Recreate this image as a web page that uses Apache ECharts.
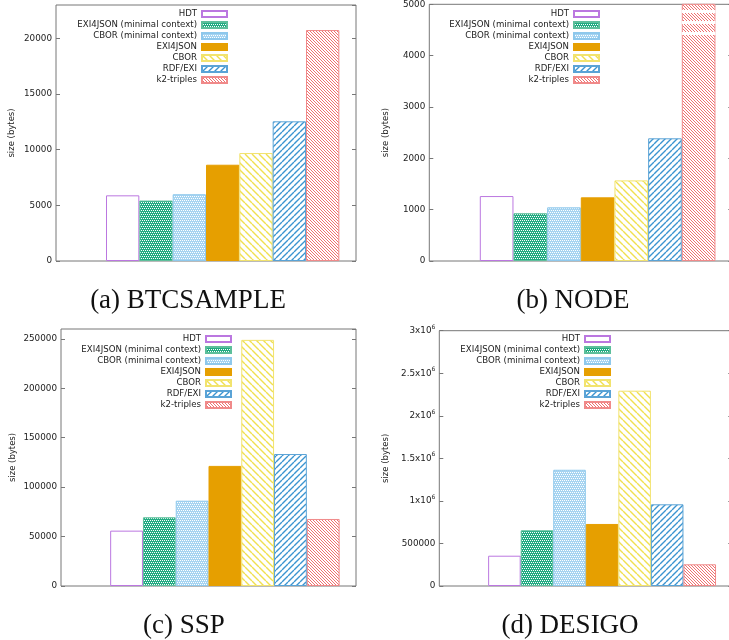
<!DOCTYPE html>
<html><head><meta charset="utf-8">
<script src="https://cdn.jsdelivr.net/npm/echarts@6/dist/echarts.min.js"></script>
<style>html,body{margin:0;padding:0;background:#fff}#c{width:729px;height:640px}</style>
</head><body><div id="c"></div><script>
// ---- data ----
const seriesNames = ['HDT', 'EXI4JSON (minimal context)', 'CBOR (minimal context)', 'EXI4JSON', 'CBOR', 'RDF/EXI', 'k2-triples'];
const btcsample = [5900, 5430, 6000, 8650, 9700, 12550, 20750];
const node = [1265, 930, 1045, 1240, 1570, 2390, 6000];
const ssp = [56000, 69500, 86300, 121500, 249000, 133500, 67800];
const desigo = [356000, 655000, 1366000, 729000, 2295000, 960000, 255000];
const panelTitles = ['(a) BTCSAMPLE', '(b) NODE', '(c) SSP', '(d) DESIGO'];
const yAxisName = 'size (bytes)';
const nodeBreaks = [4870, 4655, 4427];

// ---- styles / layout ----
const FONT = 'DejaVu Sans';
const TXT = '#222';
const FRAME = '#777';
function tile(size, draw) {
  const c = document.createElement('canvas');
  c.width = size; c.height = size;
  const g = c.getContext('2d');
  g.fillStyle = '#fff'; g.fillRect(0, 0, size, size);
  draw(g, size);
  return { image: c, repeat: 'repeat' };
}
function dots(base) {
  return tile(4, (g) => {
    g.fillStyle = base; g.fillRect(0, 0, 4, 4);
    g.fillStyle = '#fff';
    [[0, 0], [2, 0], [1, 2], [3, 2]].forEach(p => g.fillRect(p[0], p[1], 1, 1));
  });
}
function lines(color, size, width, dir) {
  return tile(size, (g, s) => {
    g.strokeStyle = color; g.lineWidth = width;
    g.beginPath();
    for (let k = -s; k <= s; k += s) {
      if (dir === 'back') { g.moveTo(k, 0); g.lineTo(k + s, s); }
      else { g.moveTo(k, s); g.lineTo(k + s, 0); }
    }
    g.stroke();
  });
}
const styles = [
  { color: '#ffffff', borderColor: '#bb77e0' },
  { color: dots('#22ab82'), borderColor: '#5dbf9b' },
  { color: dots('#a6d4f1'), borderColor: '#8ec8ec' },
  { color: '#e69f00', borderColor: '#e69f00' },
  { color: lines('#f0e050', 7, 1.4, 'back'), borderColor: '#f2e36e' },
  { color: lines('#3b94d0', 6, 1.4, 'fwd'), borderColor: '#5aa3d6' },
  { color: lines('#f07070', 3, 1, 'back'), borderColor: '#f08a8a' }
];

const panels = [
  { data: btcsample, max: 23000, interval: 5000, grid: { left: 56, top: 5, width: 300, height: 256 }, legendRight: 501, legendTop: 9, tx: 188, ty: 287, nameGap: 40 },
  { data: node, max: 5000, interval: 1000, grid: { left: 429.3, top: 4.3, width: 303, height: 256.7 }, legendRight: 129, legendTop: 9, tx: 573, ty: 287, nameGap: 39 },
  { data: ssp, max: 260000, interval: 50000, grid: { left: 61, top: 329, width: 295, height: 257 }, legendRight: 497, legendTop: 334, tx: 184, ty: 612, nameGap: 44 },
  { data: desigo, max: 3000000, interval: 500000, grid: { left: 439.3, top: 330.7, width: 293, height: 255.3 }, legendRight: 118, legendTop: 334, tx: 570, ty: 612, nameGap: 49, sci: true }
];

const SLOTS = 9;
const option = {
  animation: false,
  backgroundColor: '#fff',
  title: [], grid: [], xAxis: [], yAxis: [], legend: [], series: []
};
panels.forEach((p, pi) => {
  option.grid.push(Object.assign({ show: true, borderColor: FRAME, borderWidth: 1, backgroundColor: 'transparent', containLabel: false, outerBoundsMode: 'none' }, p.grid));
  option.xAxis.push({ type: 'value', gridIndex: pi, min: 0, max: SLOTS, show: false });
  const labelFmt = p.sci ? (v => v >= 1000000 ? '{n|' + (v / 1000000) + 'x10}{s|6}' : '{n|' + v + '}') : (v => String(v));
  const ybase = { type: 'value', gridIndex: pi, min: 0, max: p.max, interval: p.interval,
    axisLine: { show: false }, splitLine: { show: false },
    axisTick: { show: true, inside: true, length: 4, lineStyle: { color: FRAME } } };
  option.yAxis.push(Object.assign({}, ybase, {
    position: 'left',
    name: yAxisName, nameLocation: 'middle', nameRotate: 90, nameGap: p.nameGap,
    nameTextStyle: { fontFamily: FONT, fontSize: 8.5, color: TXT },
    axisLabel: { show: true, margin: 4, fontFamily: FONT, fontSize: 8.8, color: TXT, showMaxLabel: p.max % p.interval === 0, formatter: labelFmt,
      rich: { n: { fontFamily: FONT, fontSize: 8.8, color: TXT, lineHeight: 13 }, s: { fontFamily: FONT, fontSize: 6, color: TXT, lineHeight: 13, verticalAlign: 'top' } } }
  }));
  option.yAxis.push(Object.assign({}, ybase, { position: 'right', axisLabel: { show: false } }));
  option.legend.push({
    data: seriesNames, orient: 'vertical', right: p.legendRight, top: p.legendTop, padding: 0,
    align: 'right', icon: 'rect', itemWidth: 25, itemHeight: 6, itemGap: 1, selectedMode: false,
    textStyle: { fontFamily: FONT, fontSize: 8.6, color: TXT, lineHeight: 10, width: 125, align: 'right' }
  });
  option.title.push({ text: panelTitles[pi], left: p.tx, top: p.ty, textAlign: 'center', padding: 0,
    textStyle: { fontFamily: 'Liberation Serif', fontSize: 27, fontWeight: 'normal', color: '#111' } });
  const bw = p.grid.width / SLOTS;
  seriesNames.forEach((name, i) => {
    const s = {
      type: 'bar', name: name, xAxisIndex: pi, yAxisIndex: pi * 2,
      data: [[i + 2, p.data[i]]], barWidth: bw, barGap: '-100%', clip: true,
      itemStyle: Object.assign({ borderWidth: 1 }, styles[i]),
      emphasis: { disabled: true }
    };
    if (pi === 1 && i === 6) {
      s.markLine = { silent: true, symbol: ['none', 'none'], label: { show: false },
        lineStyle: { color: '#fff', width: 3, type: 'solid' },
        data: nodeBreaks.map(v => [{ coord: [i + 1.5, v] }, { coord: [i + 2.5, v] }]) };
    }
    option.series.push(s);
  });
});
const chart = echarts.init(document.getElementById('c'), null, { renderer: 'canvas' });
chart.setOption(option);
</script></body></html>
